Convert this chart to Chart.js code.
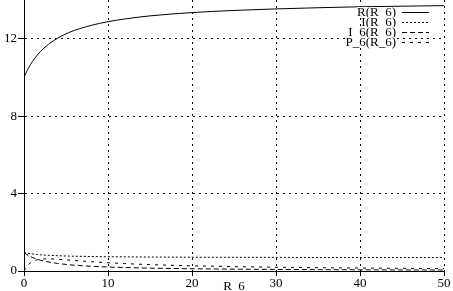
<!DOCTYPE html>
<html>
<head>
<meta charset="utf-8">
<script src="https://cdn.jsdelivr.net/npm/chart.js@4"></script>
<style>
  html, body { margin: 0; padding: 0; background: #fff; }
  #chart { display: block; }
</style>
</head>
<body>
<canvas id="chart" width="453" height="291"></canvas>
<script>
// R_6 values (x axis)
const r6 = [0, 0.25, 0.5, 1, 1.5, 2, 3, 4, 5, 6, 8, 10, 12, 15, 20, 25, 30, 35, 40, 45, 50];

// curves
const rTotal = [10.0, 10.24, 10.46, 10.82, 11.11, 11.36, 11.74, 12.03, 12.25, 12.43, 12.69, 12.88, 13.02, 13.18, 13.35, 13.46, 13.54, 13.6, 13.65, 13.68, 13.71];
const iTotal = [0.95, 0.93, 0.91, 0.88, 0.855, 0.836, 0.81, 0.79, 0.776, 0.764, 0.749, 0.738, 0.73, 0.721, 0.712, 0.706, 0.702, 0.699, 0.696, 0.694, 0.693];
const i6 = [0.95, 0.87, 0.805, 0.7, 0.62, 0.55, 0.46, 0.39, 0.34, 0.3, 0.245, 0.207, 0.18, 0.148, 0.116, 0.095, 0.081, 0.07, 0.062, 0.055, 0.05];
const p6 = [0, 0.19, 0.32, 0.49, 0.57, 0.61, 0.626, 0.606, 0.576, 0.542, 0.48, 0.427, 0.383, 0.33, 0.269, 0.226, 0.195, 0.171, 0.152, 0.137, 0.125];

const seriesNames = ["R(R_6)", "I(R_6)", "I_6(R_6)", "P_6(R_6)"];
const seriesDash = [[], [2, 2], [5, 3], [3, 5]];

const yTicks = [0, 4, 8, 12];
const xTicks = [0, 10, 20, 30, 40, 50];

const FONT = "'Liberation Serif', 'Times New Roman', serif";

function points(ys) {
  return r6.map((x, i) => ({ x: x, y: ys[i] }));
}

// legend in the top right corner, like the original
const legendPlugin = {
  id: "cornerLegend",
  afterDraw(chart) {
    const ctx = chart.ctx;
    ctx.save();
    ctx.font = "13px " + FONT;
    ctx.textAlign = "right";
    ctx.textBaseline = "middle";
    seriesNames.forEach((name, i) => {
      const y = 12 + i * 10;
      const w = ctx.measureText(name).width;
      ctx.fillStyle = "#fff";
      ctx.fillRect(396 - w, y - 5, w + 1, 10);
      ctx.fillStyle = "#000";
      ctx.fillText(name, 396, y + 1);
      ctx.strokeStyle = "#000";
      ctx.lineWidth = 1;
      ctx.setLineDash(seriesDash[i]);
      ctx.beginPath();
      ctx.moveTo(402, y + 0.5);
      ctx.lineTo(429, y + 0.5);
      ctx.stroke();
    });
    ctx.restore();
  },
};

const $chart = document.getElementById("chart").getContext("2d");

const datasets = [rTotal, iTotal, i6, p6].map((ys, i) => ({
  label: seriesNames[i],
  data: points(ys),
  borderColor: "#000",
  borderWidth: 1,
  borderDash: seriesDash[i],
  pointRadius: 0,
  fill: false,
  cubicInterpolationMode: "monotone",
}));

const chartOption = {
  type: "line",
  data: { datasets: datasets },
  options: {
    responsive: false,
    animation: false,
    layout: { padding: { left: 0, right: 9, top: 0, bottom: 0 } },
    plugins: {
      legend: { display: false },
      tooltip: { enabled: false },
    },
    scales: {
      x: {
        type: "linear",
        min: 0,
        max: 50,
        afterBuildTicks: (axis) => {
          axis.ticks = xTicks.map((v) => ({ value: v }));
        },
        afterFit: (axis) => {
          axis.height = 20;
          axis.paddingLeft = 0;
          axis.paddingRight = 0;
        },
        ticks: {
          color: "#000",
          font: { family: FONT, size: 13 },
          padding: 0,
          maxRotation: 0,
        },
        grid: { color: "#000", lineWidth: 1, tickLength: 5, tickColor: "#000" },
        border: { display: true, color: "#000", width: 1, dash: [2, 4] },
        title: {
          display: true,
          text: "R_6",
          color: "#000",
          font: { family: FONT, size: 13 },
          padding: { top: 0, bottom: -3 },
        },
      },
      y: {
        type: "linear",
        min: 0,
        max: 14,
        afterBuildTicks: (axis) => {
          axis.ticks = yTicks.map((v) => ({ value: v }));
        },
        afterFit: (axis) => {
          axis.width = 24;
          axis.paddingTop = 0;
          axis.paddingBottom = 0;
        },
        ticks: {
          color: "#000",
          font: { family: FONT, size: 13 },
          padding: 1,
        },
        grid: { color: "#000", lineWidth: 1, tickLength: 6, tickColor: "#000" },
        border: { display: true, color: "#000", width: 1, dash: [2, 4] },
      },
    },
  },
  plugins: [legendPlugin],
};

new Chart($chart, chartOption);
</script>
</body>
</html>
